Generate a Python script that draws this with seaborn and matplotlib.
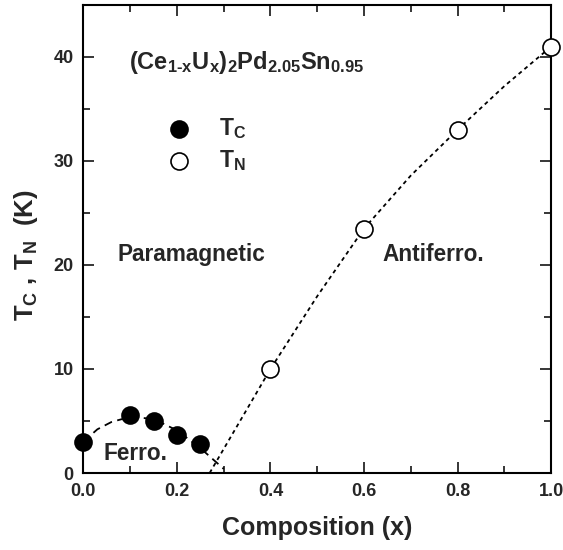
import numpy as np
import pandas as pd
import matplotlib
matplotlib.use("Agg")
import matplotlib.pyplot as plt
from matplotlib.ticker import MultipleLocator, FormatStrFormatter
import seaborn as sns

# measured points
x_tc = [0.0, 0.1, 0.15, 0.2, 0.25]
tc = [3.0, 5.6, 5.0, 3.7, 2.8]
x_tn = [0.4, 0.6, 0.8, 1.0]
tn = [10.0, 23.5, 33.0, 41.0]

# guide-to-the-eye curves
x_ferro_line = [0.0, 0.03, 0.06, 0.1, 0.15, 0.2, 0.25, 0.3]
y_ferro_line = [3.0, 4.2, 4.9, 5.4, 5.2, 4.1, 2.4, 0.4]
x_af_line = [0.27, 0.4, 0.5, 0.6, 0.7, 0.8, 0.9, 1.0]
y_af_line = [0.0, 10.0, 17.0, 23.5, 28.6, 33.0, 37.2, 41.0]

sns.set_style("ticks")
plt.rcParams['font.family'] = ['Liberation Sans', 'DejaVu Sans']
plt.rcParams['font.weight'] = 'bold'
plt.rcParams['mathtext.fontset'] = 'custom'
plt.rcParams['mathtext.rm'] = 'Liberation Sans:bold'
plt.rcParams['mathtext.it'] = 'Liberation Sans:bold'
plt.rcParams['mathtext.bf'] = 'Liberation Sans:bold'
plt.rcParams['mathtext.default'] = 'rm'

fig, ax = plt.subplots(figsize=(5.63, 5.5), dpi=100)
fig.subplots_adjust(left=0.148, right=0.979, top=0.991, bottom=0.14)

sns.lineplot(x=x_ferro_line, y=y_ferro_line, ax=ax, color='black', lw=1.3,
             linestyle=(0, (4.5, 3)), sort=False)
sns.lineplot(x=x_af_line, y=y_af_line, ax=ax, color='black', lw=1.3,
             linestyle=(0, (2.2, 2)), sort=False)

df_tc = pd.DataFrame({'x': x_tc, 'T': tc})
df_tn = pd.DataFrame({'x': x_tn, 'T': tn})
sns.scatterplot(data=df_tc, x='x', y='T', ax=ax, s=150, color='black',
                edgecolor='black', linewidth=1.2, label=r'T$_C$', zorder=5, clip_on=False)
sns.scatterplot(data=df_tn, x='x', y='T', ax=ax, s=150, facecolor='white',
                edgecolor='black', linewidth=1.2, label=r'T$_N$', zorder=5, clip_on=False)

ax.set_xlim(0, 1.0)
ax.set_ylim(0, 45)
ax.xaxis.set_major_locator(MultipleLocator(0.2))
ax.xaxis.set_minor_locator(MultipleLocator(0.1))
ax.yaxis.set_major_locator(MultipleLocator(10))
ax.yaxis.set_minor_locator(MultipleLocator(5))
ax.xaxis.set_major_formatter(FormatStrFormatter('%.1f'))
ax.tick_params(which='both', direction='in', top=True, right=True, width=1.3,
               labelsize=13)
ax.tick_params(which='major', length=8)
ax.tick_params(which='minor', length=5)
ax.tick_params(axis='x', pad=7)
ax.tick_params(axis='y', pad=7)
for sp in ax.spines.values():
    sp.set_linewidth(1.5)
    sp.set_color('black')

ax.set_xlabel('Composition (x)', fontsize=18, fontweight='bold', labelpad=12)
ax.set_ylabel(r'T$_C$ , T$_N$  (K)', fontsize=18.5, fontweight='bold')
ax.yaxis.set_label_coords(-0.092, 0.465)

ax.text(0.097, 39.5, r'(Ce$_{1\text{-}x}$U$_x$)$_2$Pd$_{2.05}$Sn$_{0.95}$',
        fontsize=17, fontweight='bold', va='center')
ax.text(0.231, 21, 'Paramagnetic', fontsize=16.3, fontweight='bold', ha='center', va='center')
ax.text(0.748, 21, 'Antiferro.', fontsize=16.3, fontweight='bold', ha='center', va='center')
ax.text(0.043, 1.9, 'Ferro.', fontsize=16.3, fontweight='bold', ha='left', va='center')

ax.legend(frameon=False, loc='upper left', bbox_to_anchor=(0.155, 0.782),
          fontsize=16.5, handletextpad=1.15, labelspacing=0.3, borderaxespad=0,
          handlelength=1.2)

fig.savefig('out.png', dpi=100)
